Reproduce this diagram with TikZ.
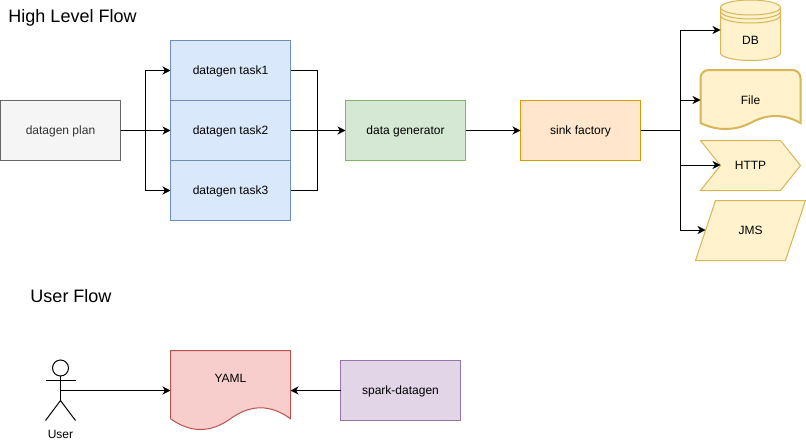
\documentclass[tikz,border=0pt]{standalone}
\usepackage{fontspec}
\setmainfont{Liberation Sans}
\usetikzlibrary{arrows.meta}

\begin{document}
\begin{tikzpicture}[x=1pt,y=-1pt,line width=1pt,font=\fontsize{12}{14}\selectfont]
\tikzstyle{every node}=[text height=10.6pt, text depth=2.4pt]
\tikzstyle{box}=[draw, minimum width=120pt, minimum height=60pt, inner sep=0pt, outer sep=0pt]
\tikzstyle{ghost}=[inner sep=0pt, outer sep=0pt, minimum height=60pt]
\tikzstyle{flow}=[-{Stealth[length=8pt,width=8pt,inset=2.4pt]}]
\tikzstyle{title}=[inner sep=0pt, anchor=west, text height=17pt, text depth=3.6pt, font=\fontsize{18}{20}\selectfont]
\definecolor{greyfill}{HTML}{F5F5F5}\definecolor{greyline}{HTML}{666666}
\definecolor{bluefill}{HTML}{DAE8FC}\definecolor{blueline}{HTML}{6C8EBF}
\definecolor{greenfill}{HTML}{D5E8D4}\definecolor{greenline}{HTML}{82B366}
\definecolor{orangefill}{HTML}{FFE6CC}\definecolor{orangeline}{HTML}{D79B00}
\definecolor{yellowfill}{HTML}{FFF2CC}\definecolor{yellowline}{HTML}{D6B656}
\definecolor{redfill}{HTML}{F8CECC}\definecolor{redline}{HTML}{B85450}
\definecolor{purplefill}{HTML}{E1D5E7}\definecolor{purpleline}{HTML}{9673A6}
\tikzstyle{target}=[draw=yellowline, fill=yellowfill]

\useasboundingbox (0,0) rectangle (806,442);

\draw (8,16) node[title] (hightitle) {High Level Flow};
\draw (30,296) node[title] (usertitle) {User Flow};

\draw (60.5,130.5) node[box, draw=greyline, fill=greyfill, text=black!80] (plan) {datagen plan};
\draw (230.5,70.5) node[box, draw=blueline, fill=bluefill] (task1) {datagen task1};
\draw (230.5,130.5) node[box, draw=blueline, fill=bluefill] (task2) {datagen task2};
\draw (230.5,190.5) node[box, draw=blueline, fill=bluefill] (task3) {datagen task3};
\draw (405.5,130.5) node[box, draw=greenline, fill=greenfill] (generator) {data generator};
\draw (580.5,130.5) node[box, draw=orangeline, fill=orangefill] (sink) {sink factory};

% sinks
\draw[target] (720.5,7.5) -- (720.5,53) arc[start angle=180, end angle=0, x radius=30, y radius=7.5]
  -- (780.5,7.5) arc[start angle=0, end angle=-180, x radius=30, y radius=7.5] -- cycle;
\draw[yellowline] (720.5,7.5) arc[start angle=180, end angle=0, x radius=30, y radius=7.5];
\draw[yellowline] (720.5,11.5) arc[start angle=180, end angle=0, x radius=30, y radius=7.5];
\draw[yellowline] (720.5,15.5) arc[start angle=180, end angle=0, x radius=30, y radius=7.5];
\draw (750.5,30) node[ghost, minimum width=60pt] (db) {};
\draw (750.5,40) node (dblabel) {DB};

\draw[target, line width=2pt] (700.5,123) -- (700.5,78) arc[start angle=180, end angle=270, radius=8] -- (792.5,70)
  arc[start angle=270, end angle=360, radius=8] -- (800.5,123)
  .. controls (784,113.7) and (767,113.7) .. (750.5,123)
  .. controls (734,131) and (717,131) .. (700.5,123) -- cycle;
\draw (750.5,100) node[ghost, minimum width=100pt] (file) {File};

\draw[target] (700.5,140.5) -- (780.5,140.5) -- (800.5,165.5) -- (780.5,190.5) -- (700.5,190.5) -- (720.5,165.5) -- cycle;
\draw (750.5,165) node[ghost, minimum width=60pt] (http) {HTTP};

\draw[target] (715.5,200.5) -- (805.5,200.5) -- (785.5,260.5) -- (695.5,260.5) -- cycle;
\draw (750.5,230) node[ghost, minimum width=90pt] (jms) {JMS};

\draw[flow] (plan.east) -- (145.5,130.5) |- (task1.west);
\draw[flow] (plan.east) -- (task2.west);
\draw[flow] (plan.east) -- (145.5,130.5) |- (task3.west);
\draw (task1.east) -| (317.5,130.5);
\draw (task3.east) -| (317.5,130.5);
\draw[flow] (task2.east) -- (generator.west);
\draw[flow] (generator.east) -- (sink.west);
\draw[flow] (sink.east) -- (680.5,130.5) |- (db.west);
\draw[flow] (sink.east) -- (680.5,130.5) |- (file.west);
\draw[flow] (sink.east) -- (680.5,130.5) |- (http.west);
\draw[flow] (sink.east) -- (680.5,130.5) |- (jms.west);

% user flow
\draw (60.5,368) node[draw, circle, minimum size=16pt, inner sep=0pt, outer sep=0pt, text height=0pt, text depth=0pt] (head) {};
\draw (45.5,380.5) coordinate (armleft) -- (75.5,380.5) coordinate (armright);
\draw (head.south) -- (60.5,400.5) coordinate (hip);
\draw (45.5,420.5) coordinate (footleft) -- (hip) -- (75.5,420.5) coordinate (footright);
\draw (60.5,390.5) coordinate (user);
\draw (60.5,434) node[inner sep=0pt] (userlabel) {User};

\draw[draw=redline, fill=redfill] (170.5,350.5) -- (290.5,350.5) -- (290.5,418.7)
  .. controls (270.5,404.2) and (250.5,404.2) .. (230.5,418.7)
  .. controls (210.5,433.1) and (190.5,433.1) .. (170.5,418.7) -- cycle;
\draw (230.5,390.5) node[ghost, minimum width=120pt] (yaml) {};
\draw (230.5,378) node (yamllabel) {YAML};
\draw (400.5,390.5) node[box, draw=purpleline, fill=purplefill] (spark) {spark-datagen};

\draw[flow] (user) -- (yaml.west);
\draw[flow] (spark.west) -- (yaml.east);
\end{tikzpicture}
\end{document}
